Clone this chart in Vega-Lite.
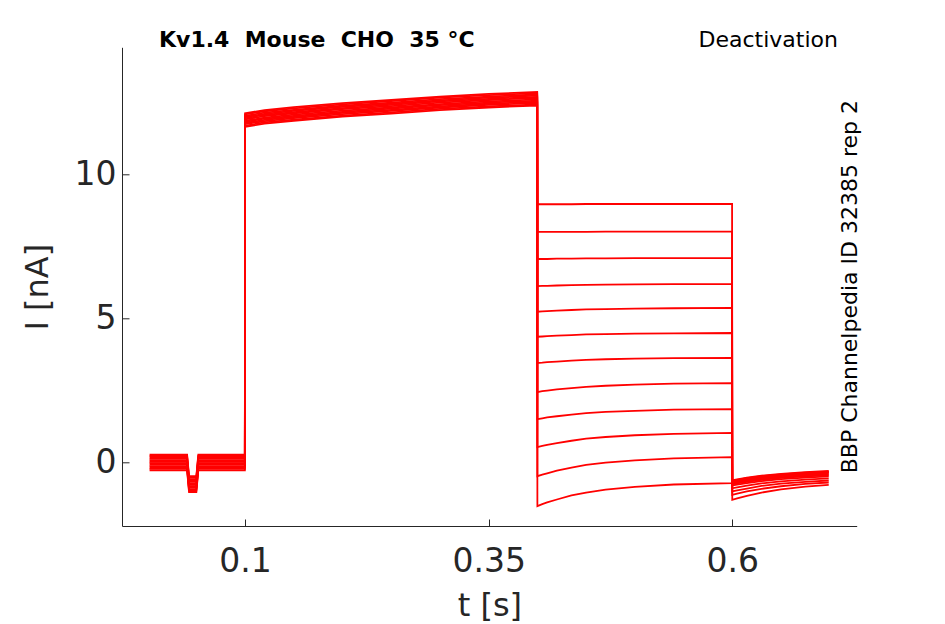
{
  "$schema": "https://vega.github.io/schema/vega-lite/v6.json",
  "width": 734.7,
  "height": 478.7,
  "autosize": {"type": "none"},
  "padding": {"left": 122, "top": 47.3, "right": 88.3, "bottom": 98},
  "background": "white",
  "config": {"view": {"stroke": null}, "font": "DejaVu Sans"},
  "layer": [
    {
      "data": {"values": [
        {"k":1,"t":0.002,"v":0.27},{"k":1,"t":0.0405,"v":0.27},{"k":1,"t":0.0425,"v":-0.48},{"k":1,"t":0.05,"v":-0.48},{"k":1,"t":0.052,"v":0.27},{"k":1,"t":0.0998,"v":0.27},
        {"k":1,"t":0.1,"v":12.12},{"k":1,"t":0.12,"v":12.23},{"k":1,"t":0.15,"v":12.33},{"k":1,"t":0.2,"v":12.47},{"k":1,"t":0.25,"v":12.58},{"k":1,"t":0.3,"v":12.70},{"k":1,"t":0.35,"v":12.79},{"k":1,"t":0.3998,"v":12.86},
        {"k":1,"t":0.4,"v":8.96},{"k":1,"t":0.405,"v":8.96},{"k":1,"t":0.41,"v":8.96},{"k":1,"t":0.42,"v":8.96},{"k":1,"t":0.435,"v":8.96},{"k":1,"t":0.45,"v":8.97},{"k":1,"t":0.47,"v":8.97},{"k":1,"t":0.5,"v":8.97},{"k":1,"t":0.54,"v":8.97},{"k":1,"t":0.5998,"v":8.97},
        {"k":1,"t":0.6,"v":-1.30},{"k":1,"t":0.605,"v":-1.25},{"k":1,"t":0.615,"v":-1.16},{"k":1,"t":0.63,"v":-1.05},{"k":1,"t":0.65,"v":-0.94},{"k":1,"t":0.675,"v":-0.84},{"k":1,"t":0.699,"v":-0.78},

        {"k":2,"t":0.002,"v":0.22},{"k":2,"t":0.0405,"v":0.22},{"k":2,"t":0.0425,"v":-0.53},{"k":2,"t":0.05,"v":-0.53},{"k":2,"t":0.052,"v":0.22},{"k":2,"t":0.0998,"v":0.22},
        {"k":2,"t":0.1,"v":12.08},{"k":2,"t":0.12,"v":12.19},{"k":2,"t":0.15,"v":12.29},{"k":2,"t":0.2,"v":12.43},{"k":2,"t":0.25,"v":12.54},{"k":2,"t":0.3,"v":12.66},{"k":2,"t":0.35,"v":12.75},{"k":2,"t":0.3998,"v":12.82},
        {"k":2,"t":0.4,"v":8.00},{"k":2,"t":0.405,"v":8.00},{"k":2,"t":0.41,"v":8.00},{"k":2,"t":0.42,"v":8.00},{"k":2,"t":0.435,"v":8.00},{"k":2,"t":0.45,"v":8.00},{"k":2,"t":0.47,"v":8.01},{"k":2,"t":0.5,"v":8.01},{"k":2,"t":0.54,"v":8.01},{"k":2,"t":0.5998,"v":8.01},
        {"k":2,"t":0.6,"v":-1.13},{"k":2,"t":0.605,"v":-1.09},{"k":2,"t":0.615,"v":-1.01},{"k":2,"t":0.63,"v":-0.92},{"k":2,"t":0.65,"v":-0.83},{"k":2,"t":0.675,"v":-0.75},{"k":2,"t":0.699,"v":-0.70},

        {"k":3,"t":0.002,"v":0.17},{"k":3,"t":0.0405,"v":0.17},{"k":3,"t":0.0425,"v":-0.58},{"k":3,"t":0.05,"v":-0.58},{"k":3,"t":0.052,"v":0.17},{"k":3,"t":0.0998,"v":0.17},
        {"k":3,"t":0.1,"v":12.03},{"k":3,"t":0.12,"v":12.14},{"k":3,"t":0.15,"v":12.24},{"k":3,"t":0.2,"v":12.38},{"k":3,"t":0.25,"v":12.49},{"k":3,"t":0.3,"v":12.61},{"k":3,"t":0.35,"v":12.70},{"k":3,"t":0.3998,"v":12.77},
        {"k":3,"t":0.4,"v":7.06},{"k":3,"t":0.405,"v":7.06},{"k":3,"t":0.41,"v":7.06},{"k":3,"t":0.42,"v":7.07},{"k":3,"t":0.435,"v":7.07},{"k":3,"t":0.45,"v":7.08},{"k":3,"t":0.47,"v":7.08},{"k":3,"t":0.5,"v":7.09},{"k":3,"t":0.54,"v":7.09},{"k":3,"t":0.5998,"v":7.09},
        {"k":3,"t":0.6,"v":-1.01},{"k":3,"t":0.605,"v":-0.97},{"k":3,"t":0.615,"v":-0.91},{"k":3,"t":0.63,"v":-0.82},{"k":3,"t":0.65,"v":-0.74},{"k":3,"t":0.675,"v":-0.68},{"k":3,"t":0.699,"v":-0.63},

        {"k":4,"t":0.002,"v":0.12},{"k":4,"t":0.0405,"v":0.12},{"k":4,"t":0.0425,"v":-0.63},{"k":4,"t":0.05,"v":-0.63},{"k":4,"t":0.052,"v":0.12},{"k":4,"t":0.0998,"v":0.12},
        {"k":4,"t":0.1,"v":11.99},{"k":4,"t":0.12,"v":12.10},{"k":4,"t":0.15,"v":12.20},{"k":4,"t":0.2,"v":12.34},{"k":4,"t":0.25,"v":12.45},{"k":4,"t":0.3,"v":12.57},{"k":4,"t":0.35,"v":12.66},{"k":4,"t":0.3998,"v":12.73},
        {"k":4,"t":0.4,"v":6.12},{"k":4,"t":0.405,"v":6.13},{"k":4,"t":0.41,"v":6.13},{"k":4,"t":0.42,"v":6.14},{"k":4,"t":0.435,"v":6.15},{"k":4,"t":0.45,"v":6.16},{"k":4,"t":0.47,"v":6.17},{"k":4,"t":0.5,"v":6.18},{"k":4,"t":0.54,"v":6.19},{"k":4,"t":0.5998,"v":6.19},
        {"k":4,"t":0.6,"v":-0.90},{"k":4,"t":0.605,"v":-0.87},{"k":4,"t":0.615,"v":-0.81},{"k":4,"t":0.63,"v":-0.73},{"k":4,"t":0.65,"v":-0.66},{"k":4,"t":0.675,"v":-0.60},{"k":4,"t":0.699,"v":-0.56},

        {"k":5,"t":0.002,"v":0.07},{"k":5,"t":0.0405,"v":0.07},{"k":5,"t":0.0425,"v":-0.68},{"k":5,"t":0.05,"v":-0.68},{"k":5,"t":0.052,"v":0.07},{"k":5,"t":0.0998,"v":0.07},
        {"k":5,"t":0.1,"v":11.95},{"k":5,"t":0.12,"v":12.06},{"k":5,"t":0.15,"v":12.16},{"k":5,"t":0.2,"v":12.30},{"k":5,"t":0.25,"v":12.41},{"k":5,"t":0.3,"v":12.53},{"k":5,"t":0.35,"v":12.62},{"k":5,"t":0.3998,"v":12.69},
        {"k":5,"t":0.4,"v":5.23},{"k":5,"t":0.405,"v":5.24},{"k":5,"t":0.41,"v":5.25},{"k":5,"t":0.42,"v":5.27},{"k":5,"t":0.435,"v":5.29},{"k":5,"t":0.45,"v":5.31},{"k":5,"t":0.47,"v":5.32},{"k":5,"t":0.5,"v":5.34},{"k":5,"t":0.54,"v":5.35},{"k":5,"t":0.5998,"v":5.36},
        {"k":5,"t":0.6,"v":-0.80},{"k":5,"t":0.605,"v":-0.77},{"k":5,"t":0.615,"v":-0.72},{"k":5,"t":0.63,"v":-0.65},{"k":5,"t":0.65,"v":-0.58},{"k":5,"t":0.675,"v":-0.53},{"k":5,"t":0.699,"v":-0.49},

        {"k":6,"t":0.002,"v":0.02},{"k":6,"t":0.0405,"v":0.02},{"k":6,"t":0.0425,"v":-0.73},{"k":6,"t":0.05,"v":-0.73},{"k":6,"t":0.052,"v":0.02},{"k":6,"t":0.0998,"v":0.02},
        {"k":6,"t":0.1,"v":11.91},{"k":6,"t":0.12,"v":12.02},{"k":6,"t":0.15,"v":12.12},{"k":6,"t":0.2,"v":12.26},{"k":6,"t":0.25,"v":12.37},{"k":6,"t":0.3,"v":12.49},{"k":6,"t":0.35,"v":12.58},{"k":6,"t":0.3998,"v":12.65},
        {"k":6,"t":0.4,"v":4.36},{"k":6,"t":0.405,"v":4.37},{"k":6,"t":0.41,"v":4.38},{"k":6,"t":0.42,"v":4.40},{"k":6,"t":0.435,"v":4.42},{"k":6,"t":0.45,"v":4.44},{"k":6,"t":0.47,"v":4.45},{"k":6,"t":0.5,"v":4.47},{"k":6,"t":0.54,"v":4.48},{"k":6,"t":0.5998,"v":4.49},
        {"k":6,"t":0.6,"v":-0.76},{"k":6,"t":0.605,"v":-0.73},{"k":6,"t":0.615,"v":-0.68},{"k":6,"t":0.63,"v":-0.61},{"k":6,"t":0.65,"v":-0.54},{"k":6,"t":0.675,"v":-0.49},{"k":6,"t":0.699,"v":-0.45},

        {"k":7,"t":0.002,"v":-0.03},{"k":7,"t":0.0405,"v":-0.03},{"k":7,"t":0.0425,"v":-0.78},{"k":7,"t":0.05,"v":-0.78},{"k":7,"t":0.052,"v":-0.03},{"k":7,"t":0.0998,"v":-0.03},
        {"k":7,"t":0.1,"v":11.86},{"k":7,"t":0.12,"v":11.97},{"k":7,"t":0.15,"v":12.07},{"k":7,"t":0.2,"v":12.21},{"k":7,"t":0.25,"v":12.32},{"k":7,"t":0.3,"v":12.44},{"k":7,"t":0.35,"v":12.53},{"k":7,"t":0.3998,"v":12.60},
        {"k":7,"t":0.4,"v":3.45},{"k":7,"t":0.405,"v":3.46},{"k":7,"t":0.41,"v":3.48},{"k":7,"t":0.42,"v":3.50},{"k":7,"t":0.435,"v":3.53},{"k":7,"t":0.45,"v":3.56},{"k":7,"t":0.47,"v":3.58},{"k":7,"t":0.5,"v":3.60},{"k":7,"t":0.54,"v":3.62},{"k":7,"t":0.5998,"v":3.63},
        {"k":7,"t":0.6,"v":-0.73},{"k":7,"t":0.605,"v":-0.70},{"k":7,"t":0.615,"v":-0.65},{"k":7,"t":0.63,"v":-0.58},{"k":7,"t":0.65,"v":-0.51},{"k":7,"t":0.675,"v":-0.46},{"k":7,"t":0.699,"v":-0.42},

        {"k":8,"t":0.002,"v":-0.08},{"k":8,"t":0.0405,"v":-0.08},{"k":8,"t":0.0425,"v":-0.83},{"k":8,"t":0.05,"v":-0.83},{"k":8,"t":0.052,"v":-0.08},{"k":8,"t":0.0998,"v":-0.08},
        {"k":8,"t":0.1,"v":11.82},{"k":8,"t":0.12,"v":11.93},{"k":8,"t":0.15,"v":12.03},{"k":8,"t":0.2,"v":12.17},{"k":8,"t":0.25,"v":12.28},{"k":8,"t":0.3,"v":12.40},{"k":8,"t":0.35,"v":12.49},{"k":8,"t":0.3998,"v":12.56},
        {"k":8,"t":0.4,"v":2.44},{"k":8,"t":0.405,"v":2.47},{"k":8,"t":0.41,"v":2.49},{"k":8,"t":0.42,"v":2.53},{"k":8,"t":0.435,"v":2.58},{"k":8,"t":0.45,"v":2.62},{"k":8,"t":0.47,"v":2.66},{"k":8,"t":0.5,"v":2.70},{"k":8,"t":0.54,"v":2.73},{"k":8,"t":0.5998,"v":2.75},
        {"k":8,"t":0.6,"v":-0.70},{"k":8,"t":0.605,"v":-0.67},{"k":8,"t":0.615,"v":-0.62},{"k":8,"t":0.63,"v":-0.55},{"k":8,"t":0.65,"v":-0.48},{"k":8,"t":0.675,"v":-0.43},{"k":8,"t":0.699,"v":-0.39},

        {"k":9,"t":0.002,"v":-0.13},{"k":9,"t":0.0405,"v":-0.13},{"k":9,"t":0.0425,"v":-0.88},{"k":9,"t":0.05,"v":-0.88},{"k":9,"t":0.052,"v":-0.13},{"k":9,"t":0.0998,"v":-0.13},
        {"k":9,"t":0.1,"v":11.78},{"k":9,"t":0.12,"v":11.89},{"k":9,"t":0.15,"v":11.99},{"k":9,"t":0.2,"v":12.13},{"k":9,"t":0.25,"v":12.24},{"k":9,"t":0.3,"v":12.36},{"k":9,"t":0.35,"v":12.45},{"k":9,"t":0.3998,"v":12.52},
        {"k":9,"t":0.4,"v":1.50},{"k":9,"t":0.405,"v":1.53},{"k":9,"t":0.41,"v":1.56},{"k":9,"t":0.42,"v":1.60},{"k":9,"t":0.435,"v":1.66},{"k":9,"t":0.45,"v":1.71},{"k":9,"t":0.47,"v":1.75},{"k":9,"t":0.5,"v":1.79},{"k":9,"t":0.54,"v":1.83},{"k":9,"t":0.5998,"v":1.85},
        {"k":9,"t":0.6,"v":-0.68},{"k":9,"t":0.605,"v":-0.65},{"k":9,"t":0.615,"v":-0.59},{"k":9,"t":0.63,"v":-0.52},{"k":9,"t":0.65,"v":-0.46},{"k":9,"t":0.675,"v":-0.40},{"k":9,"t":0.699,"v":-0.36},

        {"k":10,"t":0.002,"v":-0.18},{"k":10,"t":0.0405,"v":-0.18},{"k":10,"t":0.0425,"v":-0.93},{"k":10,"t":0.05,"v":-0.93},{"k":10,"t":0.052,"v":-0.18},{"k":10,"t":0.0998,"v":-0.18},
        {"k":10,"t":0.1,"v":11.74},{"k":10,"t":0.12,"v":11.85},{"k":10,"t":0.15,"v":11.95},{"k":10,"t":0.2,"v":12.09},{"k":10,"t":0.25,"v":12.20},{"k":10,"t":0.3,"v":12.32},{"k":10,"t":0.35,"v":12.41},{"k":10,"t":0.3998,"v":12.48},
        {"k":10,"t":0.4,"v":0.53},{"k":10,"t":0.405,"v":0.57},{"k":10,"t":0.41,"v":0.61},{"k":10,"t":0.42,"v":0.67},{"k":10,"t":0.435,"v":0.75},{"k":10,"t":0.45,"v":0.82},{"k":10,"t":0.47,"v":0.88},{"k":10,"t":0.5,"v":0.94},{"k":10,"t":0.54,"v":0.99},{"k":10,"t":0.5998,"v":1.02},
        {"k":10,"t":0.6,"v":-0.66},{"k":10,"t":0.605,"v":-0.63},{"k":10,"t":0.615,"v":-0.57},{"k":10,"t":0.63,"v":-0.50},{"k":10,"t":0.65,"v":-0.44},{"k":10,"t":0.675,"v":-0.38},{"k":10,"t":0.699,"v":-0.34},

        {"k":11,"t":0.002,"v":-0.23},{"k":11,"t":0.0405,"v":-0.23},{"k":11,"t":0.0425,"v":-0.98},{"k":11,"t":0.05,"v":-0.98},{"k":11,"t":0.052,"v":-0.23},{"k":11,"t":0.0998,"v":-0.23},
        {"k":11,"t":0.1,"v":11.69},{"k":11,"t":0.12,"v":11.80},{"k":11,"t":0.15,"v":11.90},{"k":11,"t":0.2,"v":12.04},{"k":11,"t":0.25,"v":12.15},{"k":11,"t":0.3,"v":12.27},{"k":11,"t":0.35,"v":12.36},{"k":11,"t":0.3998,"v":12.43},
        {"k":11,"t":0.4,"v":-0.48},{"k":11,"t":0.405,"v":-0.43},{"k":11,"t":0.41,"v":-0.38},{"k":11,"t":0.42,"v":-0.29},{"k":11,"t":0.435,"v":-0.18},{"k":11,"t":0.45,"v":-0.09},{"k":11,"t":0.47,"v":-0.01},{"k":11,"t":0.5,"v":0.07},{"k":11,"t":0.54,"v":0.14},{"k":11,"t":0.5998,"v":0.18},
        {"k":11,"t":0.6,"v":-0.64},{"k":11,"t":0.605,"v":-0.61},{"k":11,"t":0.615,"v":-0.55},{"k":11,"t":0.63,"v":-0.48},{"k":11,"t":0.65,"v":-0.42},{"k":11,"t":0.675,"v":-0.36},{"k":11,"t":0.699,"v":-0.32},

        {"k":12,"t":0.002,"v":-0.28},{"k":12,"t":0.0405,"v":-0.28},{"k":12,"t":0.0425,"v":-1.03},{"k":12,"t":0.05,"v":-1.03},{"k":12,"t":0.052,"v":-0.28},{"k":12,"t":0.0998,"v":-0.28},
        {"k":12,"t":0.1,"v":11.65},{"k":12,"t":0.12,"v":11.76},{"k":12,"t":0.15,"v":11.86},{"k":12,"t":0.2,"v":12.00},{"k":12,"t":0.25,"v":12.11},{"k":12,"t":0.3,"v":12.23},{"k":12,"t":0.35,"v":12.32},{"k":12,"t":0.3998,"v":12.39},
        {"k":12,"t":0.4,"v":-1.52},{"k":12,"t":0.405,"v":-1.45},{"k":12,"t":0.41,"v":-1.39},{"k":12,"t":0.42,"v":-1.29},{"k":12,"t":0.435,"v":-1.15},{"k":12,"t":0.45,"v":-1.05},{"k":12,"t":0.47,"v":-0.95},{"k":12,"t":0.5,"v":-0.85},{"k":12,"t":0.54,"v":-0.77},{"k":12,"t":0.5998,"v":-0.72},
        {"k":12,"t":0.6,"v":-0.62},{"k":12,"t":0.605,"v":-0.59},{"k":12,"t":0.615,"v":-0.53},{"k":12,"t":0.63,"v":-0.46},{"k":12,"t":0.65,"v":-0.40},{"k":12,"t":0.675,"v":-0.34},{"k":12,"t":0.699,"v":-0.30}
      ]},
      "mark": {"type": "line", "color": "#ff0000", "strokeWidth": 1.8},
      "encoding": {
        "x": {
          "field": "t", "type": "quantitative",
          "scale": {"domain": [-0.0263, 0.7277], "nice": false, "zero": false},
          "axis": {
            "title": "t [s]", "values": [0.1, 0.35, 0.6], "format": "~g",
            "grid": false, "domainColor": "#262626", "domainWidth": 1,
            "tickColor": "#262626", "tickSize": -7, "tickWidth": 1,
            "labelFont": "DejaVu Sans", "labelFontSize": 33, "labelColor": "#262626",
            "labelPadding": 26, "labelFlush": false,
            "titleFont": "DejaVu Sans", "titleFontSize": 32, "titleFontWeight": "normal",
            "titleColor": "#262626", "titleBaseline": "alphabetic", "titleY": 89
          }
        },
        "y": {
          "field": "v", "type": "quantitative",
          "scale": {"domain": [-2.21, 14.41], "nice": false, "zero": false},
          "axis": {
            "title": "I [nA]", "values": [0, 5, 10], "format": "d",
            "grid": false, "domainColor": "#262626", "domainWidth": 1,
            "tickColor": "#262626", "tickSize": -7, "tickWidth": 1,
            "labelFont": "DejaVu Sans", "labelFontSize": 33, "labelColor": "#262626",
            "labelPadding": 13, "labelFlush": false,
            "titleFont": "DejaVu Sans", "titleFontSize": 32, "titleFontWeight": "normal",
            "titleColor": "#262626", "titleAngle": -90, "titleBaseline": "alphabetic",
            "titleX": -74.5, "titleY": 239.35, "titleAlign": "center"
          }
        },
        "detail": {"field": "k", "type": "nominal"}
      }
    },
    {
      "data": {"values": [{"note": "Kv1.4 \u00a0Mouse \u00a0CHO \u00a035 °C"}]},
      "mark": {"type": "text", "align": "left", "baseline": "alphabetic", "fontSize": 22, "fontWeight": "bold", "font": "DejaVu Sans", "color": "black"},
      "encoding": {
        "x": {"datum": 0.0117, "type": "quantitative"},
        "y": {"datum": 14.41, "type": "quantitative"},
        "text": {"field": "note"}
      }
    },
    {
      "data": {"values": [{"note": "Deactivation"}]},
      "mark": {"type": "text", "align": "right", "baseline": "alphabetic", "fontSize": 22, "font": "DejaVu Sans", "color": "black"},
      "encoding": {
        "x": {"datum": 0.7085, "type": "quantitative"},
        "y": {"datum": 14.43, "type": "quantitative"},
        "text": {"field": "note"}
      }
    },
    {
      "data": {"values": [{"note": "BBP Channelpedia ID 32385 rep 2"}]},
      "mark": {"type": "text", "align": "center", "baseline": "alphabetic", "angle": 270, "fontSize": 22, "font": "DejaVu Sans", "color": "black"},
      "encoding": {
        "x": {"datum": 0.7277, "type": "quantitative"},
        "y": {"datum": 6.1, "type": "quantitative"},
        "text": {"field": "note"}
      }
    }
  ]
}
